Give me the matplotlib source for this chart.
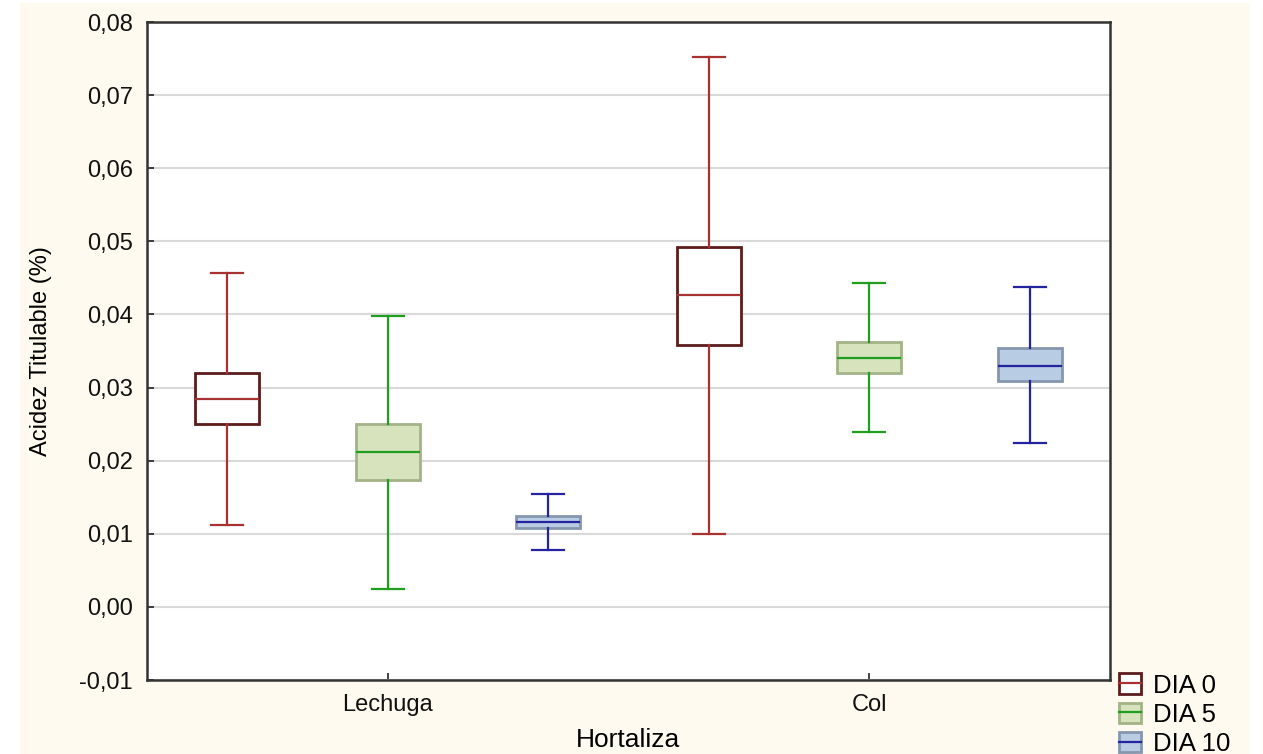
import matplotlib
matplotlib.use('Agg')

import matplotlib.pyplot as plt
from matplotlib.patches import Patch, Rectangle
from matplotlib.lines import Line2D
from matplotlib.legend_handler import HandlerTuple
from matplotlib.ticker import FuncFormatter


hortalizas = ["Lechuga", "Col"]
dias = ["DIA 0", "DIA 5", "DIA 10"]

# one value per hortaliza, for each dia
whis_lo = {"DIA 0": [0.0112, 0.0100], "DIA 5": [0.0024, 0.0239], "DIA 10": [0.0078, 0.0224]}
q1 = {"DIA 0": [0.0250, 0.0358], "DIA 5": [0.0173, 0.0320], "DIA 10": [0.0108, 0.0309]}
med = {"DIA 0": [0.0284, 0.0426], "DIA 5": [0.0212, 0.0341], "DIA 10": [0.0116, 0.0330]}
q3 = {"DIA 0": [0.0320, 0.0492], "DIA 5": [0.0250, 0.0362], "DIA 10": [0.0124, 0.0354]}
whis_hi = {"DIA 0": [0.0457, 0.0752], "DIA 5": [0.0398, 0.0443], "DIA 10": [0.0154, 0.0438]}

box_face = {"DIA 0": "#ffffff", "DIA 5": "#d6e3bc", "DIA 10": "#b8cce4"}
box_edge = {"DIA 0": "#5c1c1c", "DIA 5": "#a3b387", "DIA 10": "#8596ae"}
line_col = {"DIA 0": "#a83232", "DIA 5": "#1f9e1f", "DIA 10": "#2424a0"}

plt.rcParams['font.family'] = ['Liberation Sans', 'DejaVu Sans']
plt.rcParams['font.size'] = 17

fig = plt.figure(figsize=(12.63, 7.54), dpi=100, facecolor='white')
# cream panel behind everything
fig.patches.append(Rectangle((20 / 1263, 0), 1230 / 1263, 751 / 754,
                             transform=fig.transFigure, facecolor='#fefaf0',
                             edgecolor='none', zorder=-10))

ax = fig.add_axes([147 / 1263, 1 - 680 / 754, 963 / 1263, 658 / 754])
ax.set_facecolor('white')

for j, d in enumerate(dias):
    for i, h in enumerate(hortalizas):
        stats = [dict(whislo=whis_lo[d][i], q1=q1[d][i], med=med[d][i],
                      q3=q3[d][i], whishi=whis_hi[d][i], fliers=[])]
        ax.bxp(stats, positions=[i * 3 + j], widths=0.4, capwidths=0.2,
               patch_artist=True, showfliers=False,
               boxprops=dict(facecolor=box_face[d], edgecolor=box_edge[d], linewidth=2),
               medianprops=dict(color=line_col[d], linewidth=1.6),
               whiskerprops=dict(color=line_col[d], linewidth=1.6),
               capprops=dict(color=line_col[d], linewidth=1.6),
               manage_ticks=False, zorder=3)

ax.set_xlim(-0.5, 5.5)
ax.set_ylim(-0.01, 0.08)
ax.set_yticks([-0.01, 0.0, 0.01, 0.02, 0.03, 0.04, 0.05, 0.06, 0.07, 0.08])
ax.yaxis.set_major_formatter(FuncFormatter(lambda v, p: f"{v:.2f}".replace('.', ',')))
ax.set_xticks([1, 4])
ax.set_xticklabels(hortalizas, fontsize=17)
ax.tick_params(direction='in', length=5, width=1.2, colors='#222222', labelcolor='#111111')
ax.tick_params(axis='x', pad=10)
ax.tick_params(axis='y', pad=10)
ax.grid(axis='y', color='#d9d9d9', linewidth=1.5, zorder=0)
ax.set_axisbelow(True)
for s in ax.spines.values():
    s.set_color('#333333')
    s.set_linewidth(1.8)

ax.set_xlabel("Hortaliza", labelpad=9, fontsize=19)
ax.set_ylabel("Acidez Titulable (%)", labelpad=20)

handles = [(Patch(facecolor=box_face[d], edgecolor=box_edge[d], linewidth=2),
            Line2D([], [], color=line_col[d], linewidth=1.6)) for d in dias]
fig.legend(handles, dias, handler_map={tuple: HandlerTuple(ndivide=1, pad=0)},
           loc='upper left', bbox_to_anchor=(1104 / 1263, 1 - 658 / 754),
           frameon=False, handlelength=0.85, handleheight=0.85,
           handletextpad=0.45, labelspacing=0.2, borderpad=0.1, fontsize=18.5)

plt.savefig("out.png", dpi=100, facecolor=fig.get_facecolor())
